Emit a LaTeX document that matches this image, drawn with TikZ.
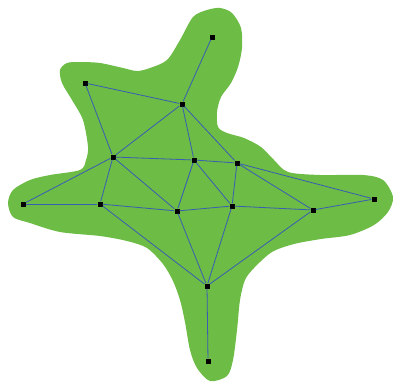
\documentclass[tikz,border=0pt]{standalone}
\usepackage{xcolor}
\usepackage{tikz}

\definecolor{leaf}{RGB}{108,188,70}
\definecolor{edgeblue}{RGB}{58,92,178}

\begin{document}
\begin{tikzpicture}[
    x=1pt, y=-1pt,
    vertex/.style={
        fill=black,
        minimum size=5pt,
        inner sep=0pt
    },
    link/.style={draw=edgeblue, line width=0.8pt}
]
\useasboundingbox (0,0) rectangle (394,381);

% region
\fill[leaf] plot[smooth cycle, tension=0.5] coordinates {
    (193,17) (207,10) (220,8) (232,13) (241,28) (242,48) (238,67) (231,83)
    (221,97) (217,112) (218,127) (227,133) (244,138) (261,147) (274,160)
    (288,172) (320,175) (363,175) (383,180) (393,197) (388,212) (374,225)
    (350,235) (321,239) (294,244) (272,252) (254,268) (245,280) (240,300)
    (237,330) (233,360) (227,376) (210,381) (197,368) (190,350) (185,322)
    (180,300) (173,281) (163,264) (147,248) (127,241) (100,236) (60,232)
    (30,223) (13,217) (8,203) (13,190) (30,180) (50,175) (80,170) (86,160)
    (88,147) (83,120) (72,100) (62,83) (60,70) (67,63) (80,62) (100,63)
    (123,68) (137,71) (150,68) (167,60) (180,40)};

% vertices
\node[vertex] (tip)  at (212,37)  {};
\node[vertex] (nw)   at (85,83)   {};
\node[vertex] (up)   at (182,104) {};
\node[vertex] (mid)  at (113,157) {};
\node[vertex] (ctr)  at (194,160) {};
\node[vertex] (ne)   at (237,163) {};
\node[vertex] (east) at (374,199) {};
\node[vertex] (west) at (23,204)  {};
\node[vertex] (lw)   at (100,204) {};
\node[vertex] (core) at (177,211) {};
\node[vertex] (rc)   at (232,206) {};
\node[vertex] (re)   at (313,210) {};
\node[vertex] (low)  at (207,286) {};
\node[vertex] (foot) at (208,361) {};

% triangulation
\draw[link] (tip) -- (up);
\draw[link] (nw) -- (up);
\draw[link] (nw) -- (mid);
\draw[link] (up) -- (mid);
\draw[link] (up) -- (ctr);
\draw[link] (up) -- (ne);
\draw[link] (mid) -- (ctr);
\draw[link] (ctr) -- (ne);
\draw[link] (mid) -- (west);
\draw[link] (mid) -- (lw);
\draw[link] (mid) -- (core);
\draw[link] (ctr) -- (core);
\draw[link] (ctr) -- (rc);
\draw[link] (ne) -- (rc);
\draw[link] (ne) -- (re);
\draw[link] (ne) -- (east);
\draw[link] (west) -- (lw);
\draw[link] (lw) -- (core);
\draw[link] (core) -- (rc);
\draw[link] (rc) -- (re);
\draw[link] (re) -- (east);
\draw[link] (lw) -- (low);
\draw[link] (core) -- (low);
\draw[link] (rc) -- (low);
\draw[link] (re) -- (low);
\draw[link] (low) -- (foot);
\end{tikzpicture}
\end{document}
